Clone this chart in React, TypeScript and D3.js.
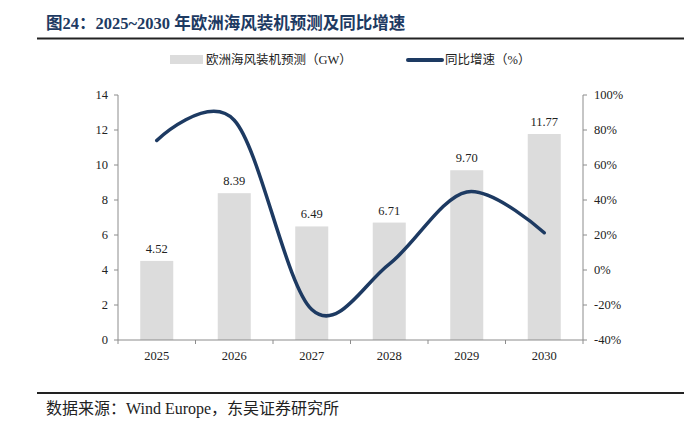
import * as d3 from 'd3'

const years = ['2025', '2026', '2027', '2028', '2029', '2030']
const capacity = [4.52, 8.39, 6.49, 6.71, 9.7, 11.77]
const growth = [74, 85.6, -22.6, 3.4, 44.6, 21.3]
const leftTicks = [0, 2, 4, 6, 8, 10, 12, 14]
const rightTicks = [-40, -20, 0, 20, 40, 60, 80, 100]

const W = 684
const H = 429
const margin = { top: 95, right: 101, bottom: 89, left: 118 }
const serif = "'Liberation Serif', 'DejaVu Serif', 'Noto Sans CJK SC', serif"
const navy = '#1d3a62'
const axisColor = '#8c8c8c'

export default function App() {
  const x = d3.scaleBand<string>()
    .domain(years)
    .range([margin.left, W - margin.right])
  const yL = d3.scaleLinear().domain([0, 14]).range([H - margin.bottom, margin.top])
  const yR = d3.scaleLinear().domain([-40, 100]).range([H - margin.bottom, margin.top])

  const barW = 33
  const cx = (d: string) => (x(d) ?? 0) + x.bandwidth() / 2

  // smoothed line like the spreadsheet's
  const line = d3.line<number>()
    .x((_, i) => cx(years[i]))
    .y(d => yR(d))
    .curve(d3.curveCardinal.tension(0))

  const y0 = yL(0)
  const xL = margin.left
  const xR = W - margin.right
  const boundaries = years.map(d => x(d) ?? 0).concat([xR])

  return (
    <svg width={W} height={H}
      style={{ position: 'absolute', left: 0, top: 0, background: '#fff', fontFamily: serif }}>
      {/* title */}
      <text x={46} y={29} fontSize={16.5} fontWeight="bold" fill={navy}>
        图24：2025~2030 年欧洲海风装机预测及同比增速
      </text>
      <line x1={37} x2={W} y1={38.5} y2={38.5} stroke="#222" strokeWidth={2} />

      {/* legend */}
      <rect x={170} y={55} width={33} height={9} fill="#dcdcdc" />
      <text x={206} y={64} fontSize={12.5} fill="#222">欧洲海风装机预测（GW）</text>
      <line x1={408} x2={442} y1={60} y2={60} stroke={navy} strokeWidth={4} strokeLinecap="round" />
      <text x={445} y={64} fontSize={12.5} fill="#222">同比增速（%）</text>

      {/* bars */}
      {years.map((d, i) => (
        <rect key={d} x={cx(d) - barW / 2} y={yL(capacity[i])} width={barW}
          height={y0 - yL(capacity[i])} fill="#dcdcdc" />
      ))}
      {years.map((d, i) => (
        <text key={d} x={cx(d)} y={yL(capacity[i]) - 8} fontSize={12.5} textAnchor="middle" fill="#222">
          {capacity[i].toFixed(2)}
        </text>
      ))}

      {/* axes */}
      <line x1={xL} x2={xL} y1={margin.top} y2={y0} stroke={axisColor} />
      <line x1={xR} x2={xR} y1={margin.top} y2={y0} stroke={axisColor} />
      <line x1={xL} x2={xR} y1={y0} y2={y0} stroke={axisColor} />
      {leftTicks.map(t => (
        <g key={t}>
          <line x1={xL - 4} x2={xL} y1={yL(t)} y2={yL(t)} stroke={axisColor} />
          <text x={xL - 10} y={yL(t)} dy="0.35em" fontSize={12.5} textAnchor="end" fill="#222">{t}</text>
        </g>
      ))}
      {rightTicks.map(t => (
        <g key={t}>
          <line x1={xR} x2={xR + 4} y1={yR(t)} y2={yR(t)} stroke={axisColor} />
          <text x={xR + 11} y={yR(t)} dy="0.35em" fontSize={12.5} fill="#222">{t}%</text>
        </g>
      ))}
      {boundaries.map((b, i) => (
        <line key={i} x1={b} x2={b} y1={y0} y2={y0 + 4} stroke={axisColor} />
      ))}
      {years.map(d => (
        <text key={d} x={cx(d)} y={356} dy="0.35em" fontSize={12.5} textAnchor="middle" fill="#222">{d}</text>
      ))}

      {/* growth line */}
      <path d={line(growth) ?? ''} fill="none" stroke={navy} strokeWidth={3.5} strokeLinecap="round" />

      {/* source */}
      <line x1={37} x2={W} y1={393} y2={393} stroke="#222" strokeWidth={2} />
      <text x={46} y={414} fontSize={16} fill="#222">数据来源：Wind Europe，东吴证券研究所</text>
    </svg>
  )
}
